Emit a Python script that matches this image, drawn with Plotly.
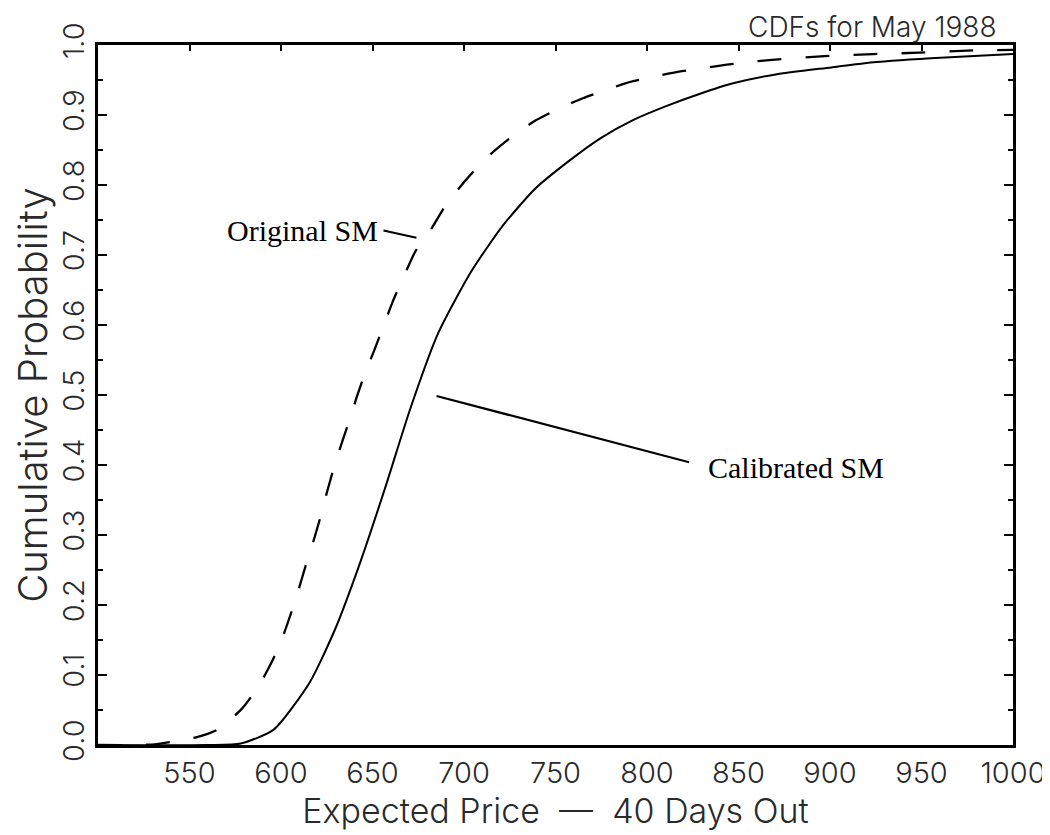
import plotly.graph_objects as go

# ---- data ----
orig_x = [500, 520, 531, 536.5, 553.6, 565.3, 578.7, 587.5, 595, 600.6, 605.7, 609.5,
          613.8, 617.6, 621.7, 625, 629, 632.9, 637.5, 641.5, 646.2, 651, 656.5, 661,
          667.4, 673.4, 682.3, 690.2, 701.3, 713.2, 726.6, 739, 751.7, 765, 777.8,
          790.4, 803.9, 817.5, 831, 843.7, 857, 870, 897, 923.6, 948.6, 975, 1000]
orig_y = [0.0, 0.0, 0.001, 0.003, 0.011, 0.022, 0.052, 0.083, 0.119, 0.152, 0.19, 0.221,
          0.259, 0.29, 0.327, 0.36, 0.397, 0.429, 0.465, 0.498, 0.533, 0.564, 0.602, 0.633,
          0.671, 0.705, 0.738, 0.772, 0.808, 0.841, 0.87, 0.892, 0.909, 0.924, 0.936,
          0.947, 0.955, 0.962, 0.967, 0.972, 0.976, 0.979, 0.984, 0.987, 0.989, 0.992, 0.993]

cal_x = [500, 560, 578, 596, 615.6, 629.5, 643.3, 657, 670.6, 686, 703.6, 721.2, 739,
         756.7, 774.7, 792.6, 810.8, 828.6, 846.5, 870.3, 900.7, 919, 955, 1000]
cal_y = [0.0, 0.0, 0.002, 0.022, 0.089, 0.165, 0.261, 0.368, 0.48, 0.589, 0.675, 0.742,
         0.795, 0.833, 0.867, 0.893, 0.913, 0.93, 0.945, 0.958, 0.968, 0.974, 0.981, 0.987]

x_ticks = [550, 600, 650, 700, 750, 800, 850, 900, 950, 1000]
y_ticks = [0.0, 0.1, 0.2, 0.3, 0.4, 0.5, 0.6, 0.7, 0.8, 0.9, 1.0]

PLOT_FONT = "DejaVu Sans ExtraLight, Inter, DejaVu Sans, sans-serif"
SERIF = "Liberation Serif, Times New Roman, serif"
INK = "#2a2a2a"

fig = go.Figure()
fig.add_trace(go.Scatter(x=orig_x, y=orig_y, mode="lines", name="Original SM",
                         line=dict(color="black", width=2.3, dash="24px,24px",
                                   shape="spline", smoothing=0.6),
                         showlegend=False))
fig.add_trace(go.Scatter(x=cal_x, y=cal_y, mode="lines", name="Calibrated SM",
                         line=dict(color="black", width=2.0, shape="spline", smoothing=0.6),
                         showlegend=False))
# helper trace so that the top tick axis is drawn
fig.add_trace(go.Scatter(x=[None], y=[None], xaxis="x2", showlegend=False,
                         hoverinfo="skip"))

fig.update_layout(
    width=1050, height=835,
    paper_bgcolor="white", plot_bgcolor="white",
    margin=dict(l=90, r=45, t=37, b=98),
    font=dict(family=PLOT_FONT, color=INK),
    xaxis=dict(range=[500, 1000], tickvals=x_ticks, ticks="", showgrid=False,
               zeroline=False, showline=True, linecolor="black", linewidth=2.5,
               mirror=True, tickfont=dict(size=29, family=PLOT_FONT, weight=300),
               title=dict(text="Expected Price  \u2014  40 Days Out",
                          font=dict(size=34, family=PLOT_FONT, weight=300), standoff=0)),
    xaxis2=dict(range=[500, 1000], overlaying="x", side="top", tickvals=x_ticks,
                ticks="inside", ticklen=6, tickwidth=1.5, tickcolor="black",
                showticklabels=False, showgrid=False, zeroline=False, showline=False),
    yaxis=dict(range=[0, 1.0], tickvals=y_ticks, tickformat=".1f", ticks="inside",
               ticklen=9, tickwidth=2, tickcolor="black", tickangle=-90,
               minor=dict(ticks="inside", ticklen=5, tickwidth=2, dtick=0.05,
                          tickcolor="black"),
               showgrid=False, zeroline=False, showline=True, linecolor="black",
               linewidth=2.5, mirror="ticks",
               tickfont=dict(size=29, family=PLOT_FONT, weight=300),
               title=dict(text="Cumulative Probability",
                          font=dict(size=40, family=PLOT_FONT, weight=300), standoff=2)),
)

# labels with leader lines
fig.add_annotation(x=654, y=0.735, xref="x", yref="y", text="Original SM",
                   showarrow=False, xanchor="right", yanchor="middle",
                   font=dict(family=SERIF, size=30, color="black"))
fig.add_shape(type="line", xref="x", yref="y", x0=656, y0=0.735, x1=674, y1=0.7245,
              line=dict(color="black", width=2))
fig.add_annotation(x=832, y=0.397, xref="x", yref="y", text="Calibrated SM",
                   showarrow=False, xanchor="left", yanchor="middle",
                   font=dict(family=SERIF, size=30, color="black"))
fig.add_shape(type="line", xref="x", yref="y", x0=685, y0=0.4986, x1=823, y1=0.404,
              line=dict(color="black", width=2.2))

# title at the top edge of the page
fig.add_annotation(x=0.985, y=1.0, xref="paper", yref="paper", yshift=37,
                   text="CDFs for May 1988", showarrow=False, xanchor="right",
                   yanchor="top", font=dict(family=PLOT_FONT, size=28, color=INK,
                                            weight=300))

fig.write_html("out.html")
